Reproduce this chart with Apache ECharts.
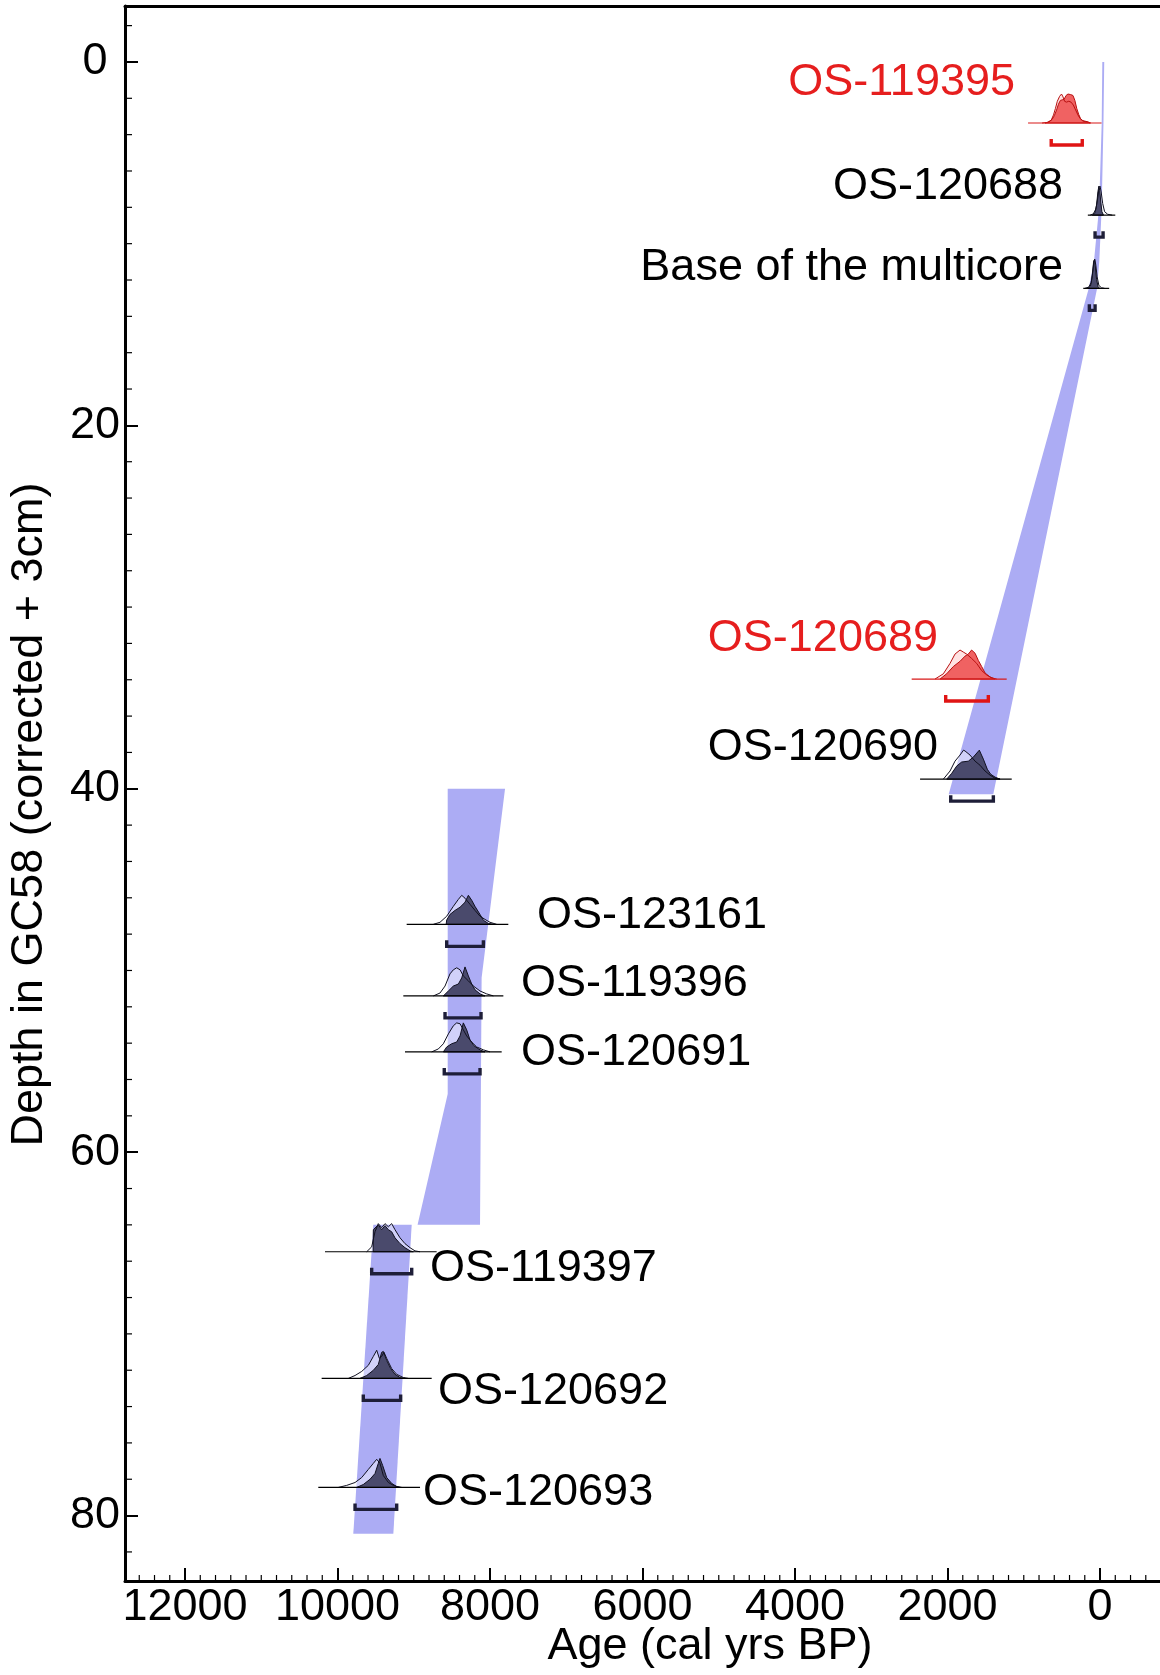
<!DOCTYPE html>
<html><head><meta charset="utf-8">
<script src="https://cdn.jsdelivr.net/npm/echarts@6/dist/echarts.min.js"></script>
<style>html,body{margin:0;padding:0;background:#fff}#c{width:1160px;height:1675px}</style>
</head><body><div id="c"></div>
<script>
// ---------------- DATA ----------------
const labels = ['OS-119395','OS-120688','Base of the multicore','OS-120689','OS-120690',
  'OS-123161','OS-119396','OS-120691','OS-119397','OS-120692','OS-120693'];
const rejected = [true,false,false,true,false,false,false,false,false,false,false];
const depths = [3.36, 8.43, 12.46, 33.96, 39.47, 47.46, 51.4, 54.48, 65.48, 72.45, 78.45];
// 95% ranges (cal yrs BP)
const rangeOld   = [640, 65, 140, 2024, 1958, 8568, 8590, 8600, 9552, 9662, 9770];
const rangeYoung = [233, -40, 65, 1465, 1399, 8087, 8118, 8131, 9027, 9172, 9224];
// extent of the calibration baseline
const spanOld   = [944, 160, 220, 2470, 2360, 9093, 9137, 9115, 10164, 10208, 10252];
const spanYoung = [-20, -200, -120, 1224, 1158, 7760, 7825, 7847, 8700, 8765, 8918];
// label anchors (age, depth)
const labelAge   = [1115, 485, 485, 2125, 2125, 7384, 7593, 7593, 8787, 8682, 8879];
const labelDepth = [1.16, 6.88, 11.29, 31.76, 37.76, 47.0, 50.7, 54.5, 66.38, 73.15, 78.76];

// unmodelled calibrated likelihoods [age, relative density]
const likelihoods = [
  [[760,0],[690,0.02],[640,0.1],[610,0.28],[585,0.5],[560,0.75],[530,0.92],[505,1.0],[485,0.9],[465,0.75],[440,0.72],[410,0.75],[380,0.72],[350,0.62],[320,0.45],[290,0.28],[260,0.15],[230,0.08],[200,0.05],[160,0.03],[120,0]],
  [[130,0],[90,0.04],[55,0.2],[30,0.6],[12,0.95],[0,1.0],[-15,0.8],[-35,0.4],[-60,0.12],[-100,0.03],[-160,0]],
  [[200,0],[150,0.04],[115,0.2],[95,0.6],[80,0.95],[68,1.0],[55,0.8],[38,0.4],[15,0.1],[-20,0.02],[-60,0]],
  [[2164,0],[2055,0.18],[1967,0.54],[1902,0.86],[1836,1.0],[1793,0.93],[1749,0.86],[1684,0.71],[1618,0.54],[1552,0.29],[1486,0.14],[1421,0.04],[1355,0]],
  [[2055,0],[1967,0.28],[1902,0.62],[1836,0.83],[1790,1.0],[1770,0.97],[1705,0.83],[1639,0.62],[1574,0.48],[1508,0.28],[1443,0.14],[1377,0.03],[1311,0]],
  [[8743,0],[8656,0.07],[8568,0.28],[8481,0.62],[8415,0.86],[8371,1.0],[8328,0.9],[8262,0.69],[8197,0.48],[8131,0.28],[8066,0.17],[8000,0.07],[7913,0]],
  [[8743,0],[8656,0.1],[8590,0.34],[8525,0.76],[8481,0.9],[8437,0.97],[8393,0.9],[8350,0.69],[8284,0.52],[8218,0.34],[8131,0.17],[8044,0.07],[7956,0]],
  [[8765,0],[8678,0.1],[8612,0.28],[8546,0.62],[8481,0.9],[8437,1.0],[8393,0.97],[8350,0.76],[8306,0.55],[8240,0.34],[8175,0.17],[8087,0.07],[8000,0]],
  [[9617,0],[9552,0.17],[9508,0.69],[9465,0.97],[9421,0.83],[9377,0.97],[9333,0.86],[9290,0.97],[9246,0.76],[9180,0.48],[9115,0.28],[9049,0.14],[8984,0.03],[8918,0]],
  [[9858,0],[9770,0.1],[9683,0.24],[9596,0.45],[9530,0.76],[9486,0.97],[9451,0.69],[9421,0.76],[9390,0.9],[9355,0.69],[9290,0.34],[9224,0.14],[9137,0.03],[9071,0]],
  [[9990,0],[9880,0.07],[9770,0.17],[9683,0.34],[9596,0.62],[9530,0.83],[9486,0.97],[9443,0.83],[9399,0.41],[9333,0.17],[9268,0.07],[9180,0]]
];
// modelled posteriors [age, relative density]
const posteriors = [
  [[720,0],[670,0.04],[630,0.12],[600,0.25],[570,0.45],[545,0.65],[520,0.78],[495,0.8],[470,0.82],[445,0.95],[420,1.0],[385,0.98],[355,0.95],[330,0.78],[305,0.5],[280,0.3],[255,0.15],[225,0.08],[190,0.06],[160,0.04],[130,0]],
  [[100,0],[70,0.06],[45,0.35],[28,0.8],[15,1.0],[3,0.85],[-10,0.45],[-25,0.12],[-45,0]],
  [[160,0],[125,0.08],[100,0.45],[85,0.9],[72,1.0],[60,0.7],[45,0.3],[25,0.06],[5,0]],
  [[2098,0],[2011,0.18],[1924,0.43],[1836,0.61],[1770,0.79],[1727,0.86],[1684,1.0],[1639,0.89],[1596,0.64],[1552,0.43],[1508,0.21],[1443,0.07],[1377,0]],
  [[2011,0],[1945,0.2],[1880,0.45],[1815,0.59],[1727,0.62],[1661,0.76],[1583,1.0],[1530,0.69],[1478,0.34],[1434,0.17],[1377,0.07],[1311,0]],
  [[8575,0],[8568,0.15],[8525,0.34],[8459,0.48],[8393,0.59],[8328,0.76],[8284,1.0],[8240,0.83],[8197,0.62],[8131,0.34],[8087,0.14],[8022,0.03],[7956,0]],
  [[8612,0],[8546,0.17],[8481,0.34],[8415,0.41],[8371,0.62],[8328,1.0],[8284,0.69],[8240,0.41],[8197,0.21],[8131,0.07],[8066,0]],
  [[8612,0],[8568,0.17],[8503,0.28],[8437,0.34],[8393,0.55],[8350,1.0],[8306,0.76],[8262,0.41],[8210,0.21],[8131,0.07],[8066,0]],
  [[9532,0],[9530,0.76],[9465,0.93],[9421,0.76],[9377,0.9],[9333,0.76],[9290,0.69],[9246,0.48],[9180,0.28],[9115,0.14],[9049,0.03],[9006,0]],
  [[9705,0],[9617,0.1],[9530,0.28],[9465,0.48],[9421,0.9],[9399,0.93],[9355,0.62],[9303,0.34],[9246,0.14],[9180,0.03],[9115,0]],
  [[9749,0],[9662,0.1],[9574,0.28],[9508,0.48],[9465,0.83],[9443,1.0],[9408,0.76],[9355,0.34],[9290,0.14],[9224,0.03],[9159,0]]
];

// age-depth model envelope segments (older edge / younger edge)
const seg1Depth = [0, 3.4, 8.0, 11.0, 12.5, 40.3];
const seg1Old   = [-30, -22, 12, 80, 150, 1985];
const seg1Young = [-55, -45, -22, 10, 40, 1400];
const seg2OldDepth   = [40, 56.8, 64.0];
const seg2Old        = [8555, 8555, 8950];
const seg2YoungDepth = [40, 50.4, 64.0];
const seg2Young      = [7803, 8110, 8131];
const seg3Depth = [64.0, 81.0];
const seg3Old   = [9530, 9793];
const seg3Young = [9027, 9268];

// axis ticks
const ageTicks   = [0, 2000, 4000, 6000, 8000, 10000, 12000];
const depthTicks = [0, 20, 40, 60, 80];

// ---------------- CHART ----------------
const FONT = '"Liberation Sans", Arial, Helvetica, sans-serif';
const AGE_MIN = -2557, AGE_MAX = 12787;
const DEPTH_MIN = -3.08, DEPTH_MAX = 83.6;
const minorAge = [];
for (let a = -2400; a <= 12600; a += 200) if (a % 2000 !== 0) minorAge.push(a);
const minorDepth = [];
for (let d = -2; d <= 82; d += 2) if (d % 20 !== 0) minorDepth.push(d);

const segments = [
  {od: seg1Depth, o: seg1Old, yd: seg1Depth, y: seg1Young},
  {od: seg2OldDepth, o: seg2Old, yd: seg2YoungDepth, y: seg2Young},
  {od: seg3Depth, o: seg3Old, yd: seg3Depth, y: seg3Young}
];

const PEAK = 29, BR_OFF = 22, BR_TICK = 6;

function renderBand(params, api) {
  const s = segments[params.dataIndex];
  const pts = [];
  for (let k = 0; k < s.o.length; k++) pts.push(api.coord([s.o[k], s.od[k]]));
  for (let k = s.y.length - 1; k >= 0; k--) pts.push(api.coord([s.y[k], s.yd[k]]));
  return {type: 'polygon', shape: {points: pts}, style: {fill: '#acacf4'}};
}

// minor ticks placed through the same axis scales
function renderMinorTicks(params, api) {
  const cs = params.coordSys;
  const bottom = cs.y + cs.height, left = cs.x;
  const children = [];
  minorAge.forEach(a => {
    const x = api.coord([a, 0])[0];
    if (x > left + 1 && x < 1160)
      children.push({type: 'line', shape: {x1: x, y1: bottom, x2: x, y2: bottom - 6}, style: {stroke: '#000', lineWidth: 1.2}});
  });
  minorDepth.forEach(d => {
    const y = api.coord([0, d])[1];
    children.push({type: 'line', shape: {x1: left, y1: y, x2: left + 7, y2: y}, style: {stroke: '#000', lineWidth: 1.2}});
  });
  return {type: 'group', children};
}

function renderDate(params, api) {
  const i = params.dataIndex;
  const d = depths[i];
  const red = rejected[i];
  const base = api.coord([0, d])[1];
  const X = a => api.coord([a, d])[0];
  const curve = c => {
    const p = c.map(q => [X(q[0]), base - q[1] * PEAK]);
    p.push([X(c[c.length - 1][0]), base]);
    p.unshift([X(c[0][0]), base]);
    return p;
  };
  const lik = curve(likelihoods[i]);
  const post = curve(posteriors[i]);
  const lineCol = red ? '#d81818' : '#000';
  const edgeCol = red ? '#b81010' : '#101020';
  const by = base + BR_OFF;
  const children = [
    {type: 'polygon', shape: {points: lik}, style: {fill: red ? 'rgba(255,215,215,0.7)' : 'rgba(255,255,255,0.45)', stroke: 'none'}},
    {type: 'polygon', shape: {points: post}, style: {fill: red ? '#f06262' : '#4a4a6c', stroke: edgeCol, lineWidth: 1}},
    {type: 'polyline', shape: {points: lik}, style: {fill: null, stroke: edgeCol, lineWidth: 1}},
    {type: 'line', shape: {x1: X(spanOld[i]), y1: base, x2: X(spanYoung[i]), y2: base}, style: {stroke: lineCol, lineWidth: 1.2}},
    {type: 'polyline', shape: {points: [[X(rangeOld[i]), by - BR_TICK], [X(rangeOld[i]), by], [X(rangeYoung[i]), by], [X(rangeYoung[i]), by - BR_TICK]]},
      style: {fill: null, stroke: red ? '#e01414' : '#1e1e38', lineWidth: 3.4}},
  ];
  const lp = api.coord([labelAge[i], labelDepth[i]]);
  children.push({type: 'text', x: lp[0], y: lp[1], style: {
    text: labels[i], fill: red ? '#e61e1e' : '#000', font: '45px ' + FONT,
    align: i < 5 ? 'right' : 'left', verticalAlign: 'middle'}});
  return {type: 'group', children};
}

const chart = echarts.init(document.getElementById('c'), null, {renderer: 'canvas'});
const axisText = {fontSize: 45, color: '#000', fontFamily: FONT};
const plain = v => String(v);
chart.setOption({
  animation: false,
  backgroundColor: '#fff',
  grid: {left: 125, right: -135, top: 6, bottom: 94, containLabel: false, outerBoundsMode: 'none'},
  xAxis: [
    {type: 'value', inverse: true, min: AGE_MIN, max: AGE_MAX, position: 'bottom',
     axisLine: {show: true, onZero: false, lineStyle: {color: '#000', width: 3}},
     axisTick: {show: true, inside: true, length: 13, customValues: ageTicks, lineStyle: {color: '#000', width: 2}},
     axisLabel: Object.assign({customValues: ageTicks, margin: 4, formatter: plain}, axisText),
     splitLine: {show: false},
     name: 'Age (cal yrs BP)', nameLocation: 'middle', nameGap: 43, nameMoveOverlap: false, nameTextStyle: axisText},
    {type: 'value', inverse: true, min: AGE_MIN, max: AGE_MAX, position: 'top',
     axisLine: {show: true, onZero: false, lineStyle: {color: '#000', width: 3}},
     axisTick: {show: false}, axisLabel: {show: false}, splitLine: {show: false}}
  ],
  yAxis: [
    {type: 'value', inverse: true, min: DEPTH_MIN, max: DEPTH_MAX, position: 'left',
     axisLine: {show: true, onZero: false, lineStyle: {color: '#000', width: 3}},
     axisTick: {show: true, inside: true, length: 13, customValues: depthTicks, lineStyle: {color: '#000', width: 2}},
     axisLabel: Object.assign({customValues: depthTicks, margin: 30, align: 'center', formatter: plain}, axisText),
     splitLine: {show: false},
     name: 'Depth in GC58 (corrected + 3cm)', nameLocation: 'middle', nameGap: 73, nameMoveOverlap: false,
     nameTextStyle: Object.assign({padding: [0, 42, 0, 0]}, axisText)}
  ],
  series: [
    {type: 'custom', xAxisIndex: 0, yAxisIndex: 0, silent: true, clip: false,
     data: segments.map(s => [s.o[0], s.od[0]]), renderItem: renderBand},
    {type: 'custom', xAxisIndex: 0, yAxisIndex: 0, silent: true, clip: false,
     data: depths.map((d, i) => [rangeOld[i], d]), renderItem: renderDate},
    {type: 'custom', xAxisIndex: 0, yAxisIndex: 0, silent: true, clip: false, z: 5,
     data: [[0, 0]], renderItem: renderMinorTicks}
  ]
});
</script>
</body></html>
